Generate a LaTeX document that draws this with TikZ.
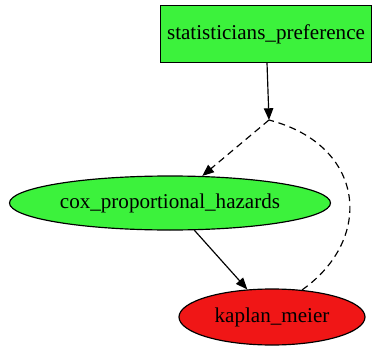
\documentclass[tikz,border=0pt]{standalone}
\usepackage{fontspec}
\setmainfont{Liberation Serif}
\usetikzlibrary{positioning,shapes.geometric,arrows.meta}

\definecolor{nodegreen}{RGB}{60,242,60}
\definecolor{nodered}{RGB}{240,22,22}

\tikzset{
	factor/.style={draw, line width=1pt, fill=nodegreen, minimum width=6.33cm, minimum height=1.71cm, font=\fontsize{18}{21}\selectfont},
	method/.style={draw, line width=1pt, ellipse, inner sep=0pt, font=\fontsize{18}{21}\selectfont},
	edge/.style={line width=1pt, -{Triangle[length=10pt, width=8pt]}},
	weak/.style={dash pattern=on 6pt off 4pt}
}

\begin{document}
\begin{tikzpicture}
	\useasboundingbox (0, 0) rectangle (11.22, 10.35);

	% Nodes:
	\node[factor] (pref) at (7.98, 9.33) {statisticians\_preference};
	\coordinate (junc) at (8.07, 6.75);
	\node[method, fill=nodegreen, minimum width=9.63cm, minimum height=1.62cm] (cox) at (5.1, 4.26) {cox\_proportional\_hazards};
	\node[method, fill=nodered, minimum width=5.58cm, minimum height=1.68cm] (km) at (8.16, 0.84) {kaplan\_meier};

	% Edges:
	\draw[edge] (pref) -- (junc);
	\draw[edge, weak] (junc) -- (cox);
	\draw[line width=1pt, weak] (km.42) .. controls (11.25, 3.2) and (10.95, 6.0) .. (junc);
	\draw[edge] (cox) -- (km);
\end{tikzpicture}
\end{document}
